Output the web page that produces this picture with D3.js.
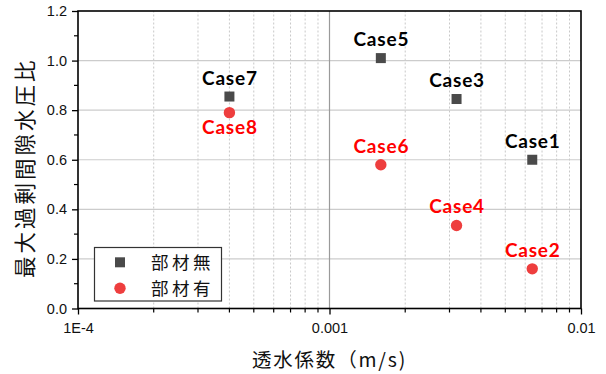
<!DOCTYPE html>
<html>
<head>
<meta charset="utf-8">
<script src="https://cdn.jsdelivr.net/npm/d3@7"></script>
<style>
  body { margin: 0; background: #fff; }
  svg { display: block; }
</style>
</head>
<body>
<svg id="chart" width="606" height="374"></svg>
<script>
// Permeability (m/s) vs. maximum excess pore-water pressure ratio
const caseNames   = ["Case1", "Case2", "Case3", "Case4", "Case5", "Case6", "Case7", "Case8"];
const permeability = [0.0064, 0.0064, 0.0032, 0.0032, 0.0016, 0.0016, 0.0004, 0.0004];
const pressureRatio = [0.60, 0.16, 0.845, 0.335, 1.01, 0.58, 0.855, 0.79];
const hasMember = [false, true, false, true, false, true, false, true];
const labelBelow = [false, false, false, false, false, false, false, true];

const seriesNames = ["部材無", "部材有"];
const yTicks = [0.0, 0.2, 0.4, 0.6, 0.8, 1.0, 1.2];
const xTickValues = [1e-4, 1e-3, 1e-2];
const xTickLabels = ["1E-4", "0.001", "0.01"];
const xTitle = "透水係数（m/s)";
const yTitle = "最大過剰間隙水圧比";

const svg = d3.select("#chart");
const margin = { left: 78, right: 25, top: 11, bottom: 65.5 };
const W = 606, H = 374;

const x = d3.scaleLog().domain([1e-4, 1e-2]).range([margin.left, W - margin.right]);
const y = d3.scaleLinear().domain([0, 1.2]).range([H - margin.bottom, margin.top]);

const numFont = "'Liberation Sans', Arial, sans-serif";
const cjkFont = "'Noto Sans CJK JP', sans-serif";

// minor decade values for dotted grid lines and minor ticks
const minorX = [];
[1e-4, 1e-3].forEach(d => { for (let k = 2; k <= 9; k++) minorX.push(d * k); });

const grid = svg.append("g");
grid.selectAll("line.minor").data(minorX).join("line")
  .attr("x1", d => x(d)).attr("x2", d => x(d))
  .attr("y1", y(0)).attr("y2", y(1.2))
  .attr("stroke", "#c8c8c8").attr("stroke-width", 1)
  .attr("stroke-dasharray", "2,2");
grid.selectAll("line.h").data(yTicks.filter(v => v > 0 && v < 1.2)).join("line")
  .attr("x1", x(1e-4)).attr("x2", x(1e-2))
  .attr("y1", d => y(d)).attr("y2", d => y(d))
  .attr("stroke", "#cccccc").attr("stroke-width", 1.2);
grid.append("line")
  .attr("x1", x(1e-3)).attr("x2", x(1e-3))
  .attr("y1", y(0)).attr("y2", y(1.2))
  .attr("stroke", "#9a9a9a").attr("stroke-width", 1.2);

// axes
const xAxis = d3.axisBottom(x).tickValues(xTickValues)
  .tickFormat((d, i) => xTickLabels[i]).tickSize(6).tickPadding(8);
const gx = svg.append("g").attr("transform", `translate(0,${y(0)})`).call(xAxis);
gx.selectAll("text").attr("font-family", numFont).attr("font-size", 14.5).attr("fill", "#111");
gx.select(".domain").remove();
gx.selectAll(".tick line").attr("stroke", "#000").attr("stroke-width", 1.3);
svg.append("g").selectAll("line").data(minorX).join("line")
  .attr("x1", d => x(d)).attr("x2", d => x(d))
  .attr("y1", y(0)).attr("y2", y(0) + 4)
  .attr("stroke", "#000").attr("stroke-width", 1.2);

const yAxis = d3.axisLeft(y).tickValues(yTicks)
  .tickFormat(d3.format(".1f")).tickSize(6).tickPadding(5);
const gy = svg.append("g").attr("transform", `translate(${x(1e-4)},0)`).call(yAxis);
gy.selectAll("text").attr("font-family", numFont).attr("font-size", 14.5).attr("fill", "#111");
gy.select(".domain").remove();
gy.selectAll(".tick line").attr("stroke", "#000").attr("stroke-width", 1.3);
const minorY = d3.range(0.1, 1.2, 0.2);
svg.append("g").selectAll("line").data(minorY).join("line")
  .attr("x1", x(1e-4) - 4).attr("x2", x(1e-4))
  .attr("y1", d => y(d)).attr("y2", d => y(d))
  .attr("stroke", "#000").attr("stroke-width", 1.2);

// frame
svg.append("rect")
  .attr("x", x(1e-4)).attr("y", y(1.2))
  .attr("width", x(1e-2) - x(1e-4)).attr("height", y(0) - y(1.2))
  .attr("fill", "none").attr("stroke", "#000").attr("stroke-width", 1.6);

// titles
svg.append("text").text(xTitle)
  .attr("x", (x(1e-4) + x(1e-2)) / 2).attr("y", 367)
  .attr("text-anchor", "middle").attr("font-family", cjkFont)
  .attr("font-size", 19.5).attr("letter-spacing", 1.8).attr("fill", "#111");
svg.append("text").text(yTitle)
  .attr("transform", `translate(33,${(y(0) + y(1.2)) / 2 + 8}) rotate(-90)`)
  .attr("text-anchor", "middle").attr("font-family", cjkFont)
  .attr("font-size", 21.5).attr("letter-spacing", 3).attr("fill", "#111");

// points
const pts = caseNames.map((n, i) => ({
  name: n, k: permeability[i], r: pressureRatio[i], member: hasMember[i], below: labelBelow[i]
}));
const squareColor = "#4a4a4a", circleColor = "#ee3e3e";
const sq = 10;
svg.append("g").selectAll("rect").data(pts.filter(d => !d.member)).join("rect")
  .attr("x", d => x(d.k) - sq / 2).attr("y", d => y(d.r) - sq / 2)
  .attr("width", sq).attr("height", sq).attr("fill", squareColor);
svg.append("g").selectAll("circle").data(pts.filter(d => d.member)).join("circle")
  .attr("cx", d => x(d.k)).attr("cy", d => y(d.r)).attr("r", 5.7)
  .attr("fill", circleColor);

// case labels
svg.append("g").selectAll("text").data(pts).join("text")
  .text(d => d.name)
  .attr("x", d => x(d.k) + 0.5)
  .attr("y", d => d.below ? y(d.r) + 21 : y(d.r) - 12)
  .attr("text-anchor", "middle")
  .attr("font-family", "Lato, 'Open Sans', sans-serif")
  .attr("font-weight", "bold").attr("font-size", 19).attr("letter-spacing", 0.8)
  .attr("fill", d => d.member ? "#ff0000" : "#000");

// legend
const lg = svg.append("g");
lg.append("rect").attr("x", 94.5).attr("y", 247.5).attr("width", 127).attr("height", 53.5)
  .attr("fill", "#fff").attr("stroke", "#333").attr("stroke-width", 1.2);
lg.append("rect").attr("x", 120 - sq / 2).attr("y", 262.3 - sq / 2)
  .attr("width", sq).attr("height", sq).attr("fill", squareColor);
lg.append("circle").attr("cx", 120).attr("cy", 288.3).attr("r", 5.7).attr("fill", circleColor);
lg.selectAll("text").data(seriesNames).join("text")
  .text(d => d)
  .attr("x", 151).attr("y", (d, i) => 262.3 + i * 26 + 6.5)
  .attr("font-family", cjkFont).attr("font-size", 17.5).attr("letter-spacing", 3.5).attr("fill", "#111");
</script>
</body>
</html>
